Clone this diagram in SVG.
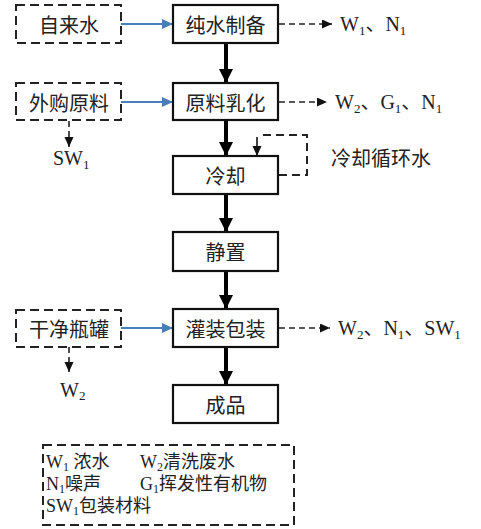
<svg xmlns="http://www.w3.org/2000/svg" width="481" height="529" viewBox="0 0 481 529">
<defs>
<style>
.main{fill:#fff;stroke:#111;stroke-width:2.2}
.dbox{fill:#fff;stroke:#222;stroke-width:2;stroke-dasharray:9 5}
.cn{font-family:"Noto Sans CJK SC",sans-serif;font-size:20px;fill:#222;text-anchor:middle;dominant-baseline:central}
.lbl{font-family:"Liberation Serif","Noto Sans CJK SC",serif;font-size:20px;fill:#222}
.leg{font-family:"Liberation Serif","Noto Sans CJK SC",serif;font-size:18px;fill:#222}
.thick{stroke:#000;stroke-width:4;fill:none}
.blue{stroke:#4a7ebb;stroke-width:2;fill:none}
.dash{stroke:#222;stroke-width:1.6;fill:none;stroke-dasharray:6 4}
</style>
<marker id="hb" markerUnits="userSpaceOnUse" markerWidth="16" markerHeight="16" refX="14" refY="7" orient="auto"><path d="M0,0 L14,7 L0,14 Z" fill="#000"/></marker>
<marker id="hblue" markerUnits="userSpaceOnUse" markerWidth="12" markerHeight="12" refX="11" refY="5" orient="auto"><path d="M0,0 L11,5 L0,10 Z" fill="#4a7ebb"/></marker>
<marker id="hd" markerUnits="userSpaceOnUse" markerWidth="12" markerHeight="12" refX="10" refY="4.5" orient="auto"><path d="M0,0 L10,4.5 L0,9 Z" fill="#111"/></marker>
</defs>

<g id="connectors">
<path class="thick" d="M226,43 V83" marker-end="url(#hb)"/>
<path class="thick" d="M226,120 V156" marker-end="url(#hb)"/>
<path class="thick" d="M226,194 V232" marker-end="url(#hb)"/>
<path class="thick" d="M226,271 V309" marker-end="url(#hb)"/>
<path class="thick" d="M226,347 V385" marker-end="url(#hb)"/>
<path class="blue" d="M121,24 H173" marker-end="url(#hblue)"/>
<path class="blue" d="M121,102 H173" marker-end="url(#hblue)"/>
<path class="blue" d="M121,328 H173" marker-end="url(#hblue)"/>
<path class="dash" d="M279,24 H332" marker-end="url(#hd)"/>
<path class="dash" d="M279,102 H327" marker-end="url(#hd)"/>
<path class="dash" d="M279,328 H330" marker-end="url(#hd)"/>
<path class="dash" d="M69,121 V147" marker-end="url(#hd)"/>
<path class="dash" d="M69,347 V372" marker-end="url(#hd)"/>
<path class="dash" style="stroke-width:2;stroke-dasharray:8 5" d="M279,175 H307 V135 H261"/>
<path stroke="#111" stroke-width="1.6" fill="none" d="M257,137 V156" marker-end="url(#hd)"/>
</g>

<g id="n-ziláishui"><rect class="dbox" x="16" y="5" width="105" height="38"/><text class="cn" x="69" y="24">自来水</text></g>
<g id="n-waigou"><rect class="dbox" x="16" y="83" width="105" height="37"/><text class="cn" x="69" y="102">外购原料</text></g>
<g id="n-ganjing"><rect class="dbox" x="16" y="310" width="105" height="37"/><text class="cn" x="69" y="328">干净瓶罐</text></g>

<g id="n-chunshui"><rect class="main" x="173" y="5" width="105" height="38"/><text class="cn" x="225.5" y="24">纯水制备</text></g>
<g id="n-ruhua"><rect class="main" x="173" y="83" width="105" height="37"/><text class="cn" x="225.5" y="102">原料乳化</text></g>
<g id="n-lengque"><rect class="main" x="173" y="156" width="105" height="38"/><text class="cn" x="225.5" y="175">冷却</text></g>
<g id="n-jingzhi"><rect class="main" x="173" y="232" width="105" height="39"/><text class="cn" x="225.5" y="251">静置</text></g>
<g id="n-guanzhuang"><rect class="main" x="173" y="309" width="105" height="38"/><text class="cn" x="225.5" y="328">灌装包装</text></g>
<g id="n-chengpin"><rect class="main" x="173" y="385" width="105" height="38"/><text class="cn" x="225.5" y="404">成品</text></g>

<g id="labels">
<text class="cn" x="381" y="157">冷却循环水</text>
<text class="lbl" x="340" y="31">W<tspan font-size="13" dy="4">1</tspan><tspan dy="-4">、N</tspan><tspan font-size="13" dy="4">1</tspan></text>
<text class="lbl" x="335" y="109">W<tspan font-size="13" dy="4">2</tspan><tspan dy="-4">、G</tspan><tspan font-size="13" dy="4">1</tspan><tspan dy="-4">、N</tspan><tspan font-size="13" dy="4">1</tspan></text>
<text class="lbl" x="338" y="335">W<tspan font-size="13" dy="4">2</tspan><tspan dy="-4">、N</tspan><tspan font-size="13" dy="4">1</tspan><tspan dy="-4">、SW</tspan><tspan font-size="13" dy="4">1</tspan></text>
<text class="lbl" x="53" y="165">SW<tspan font-size="13" dy="4">1</tspan></text>
<text class="lbl" x="60" y="397">W<tspan font-size="13" dy="3">2</tspan></text>
</g>

<g id="legend">
<rect class="dbox" x="43" y="445" width="251" height="80"/>
<text class="leg" x="46" y="468">W<tspan font-size="12" dy="3">1</tspan><tspan dy="-3"> 浓水</tspan></text>
<text class="leg" x="140" y="468">W<tspan font-size="12" dy="3">2</tspan><tspan dy="-3">清洗废水</tspan></text>
<text class="leg" x="46" y="490">N<tspan font-size="12" dy="3">1</tspan><tspan dy="-3">噪声</tspan></text>
<text class="leg" x="140" y="490">G<tspan font-size="12" dy="3">1</tspan><tspan dy="-3">挥发性有机物</tspan></text>
<text class="leg" x="46" y="512">SW<tspan font-size="12" dy="3">1</tspan><tspan dy="-3">包装材料</tspan></text>
</g>
</svg>
